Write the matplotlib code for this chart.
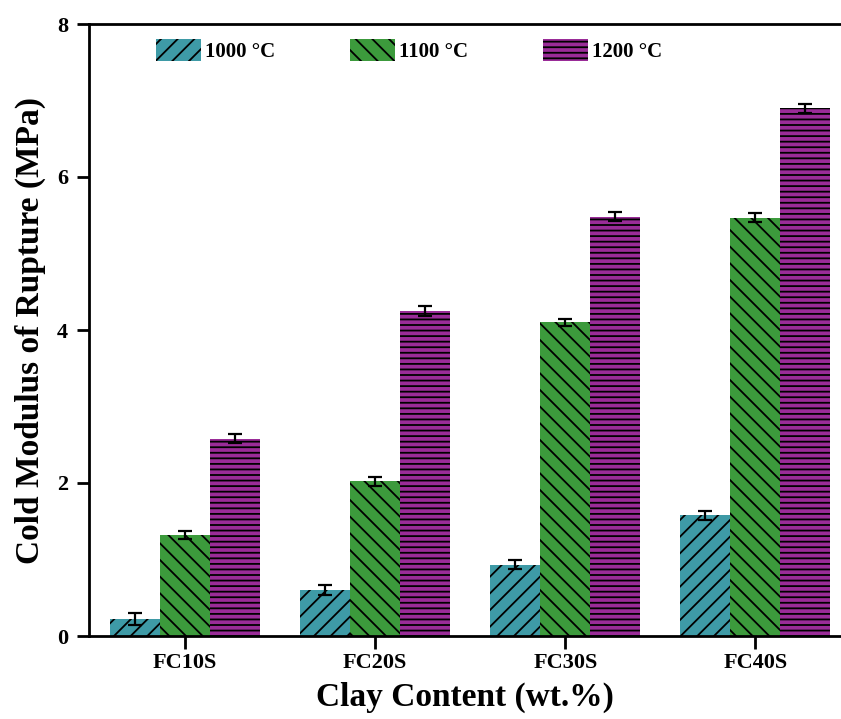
import numpy as np
import matplotlib
matplotlib.use('Agg')
import matplotlib.pyplot as plt

plt.rcParams['font.family'] = 'Liberation Serif'
plt.rcParams['font.weight'] = 'bold'
plt.rcParams['hatch.linewidth'] = 1.3

samples = ['FC10S', 'FC20S', 'FC30S', 'FC40S']
temps = ['1000 °C', '1100 °C', '1200 °C']

mor_1000 = [0.22, 0.60, 0.93, 1.58]
mor_1100 = [1.32, 2.02, 4.10, 5.47]
mor_1200 = [2.58, 4.25, 5.48, 6.90]

err_1000 = [0.08, 0.07, 0.06, 0.06]
err_1100 = [0.05, 0.06, 0.05, 0.06]
err_1200 = [0.06, 0.07, 0.06, 0.06]

colors = ['#3e9aa6', '#3c9a3c', '#9a2c98']
hatches = ['//', '\\\\', '---']

fig = plt.figure(figsize=(8.41, 7.19), dpi=100)
ax = fig.add_axes([89 / 841, 1 - 636 / 719, 1 - 89 / 841, 612 / 719])

x = np.arange(len(samples))
w = 0.263
series = [mor_1000, mor_1100, mor_1200]
errs = [err_1000, err_1100, err_1200]
for i, (vals, e) in enumerate(zip(series, errs)):
    ax.bar(x + (i - 1) * w, vals, w, color=colors[i], edgecolor='black',
           linewidth=0, hatch=hatches[i], label=temps[i],
           yerr=e, capsize=5,
           error_kw=dict(ecolor='black', elinewidth=1.6, capthick=1.6))

ax.set_xlim(-0.505, 3.45)
ax.set_ylim(0, 8)
ax.set_yticks([0, 2, 4, 6, 8])
ax.set_xticks(x)
ax.set_xticklabels(samples)
ax.tick_params(axis='both', direction='out', length=9, width=2, labelsize=16)
ax.tick_params(axis='y', pad=6)
for s in ['left', 'bottom', 'top']:
    ax.spines[s].set_linewidth(2)
ax.spines['right'].set_visible(False)

ax.set_xlabel('Clay Content (wt.%)', fontsize=24, fontweight='bold', labelpad=6)
ax.set_ylabel('Cold Modulus of Rupture (MPa)', fontsize=24, fontweight='bold', labelpad=8)

leg = ax.legend(loc='upper left', bbox_to_anchor=(137 / 841, 1 - 20 / 719),
                bbox_transform=fig.transFigure, ncol=3, frameon=False,
                fontsize=15, handlelength=2.15, handleheight=1.25,
                handletextpad=0.2, columnspacing=3.6)

fig.savefig('out.png', dpi=100)
